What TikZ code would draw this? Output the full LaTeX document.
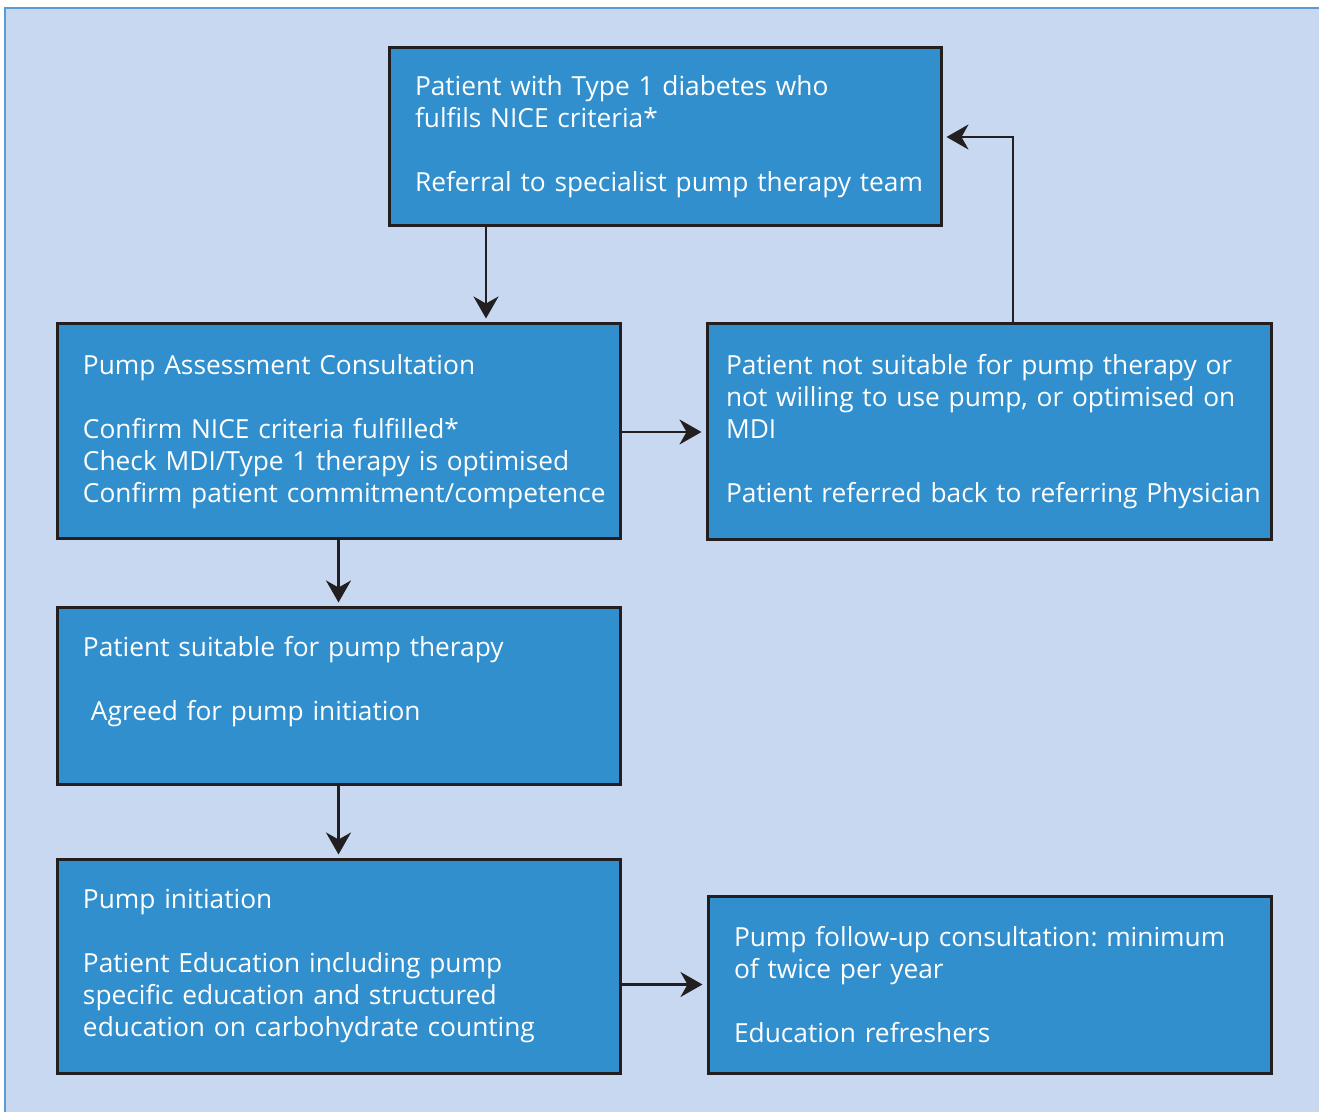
\documentclass[tikz,border=0pt]{standalone}
\usepackage{fontspec}
\setmainfont{Open Sans}
\usetikzlibrary{arrows.meta}
\frenchspacing

\definecolor{panelBlue}{HTML}{C8D8F0}
\definecolor{panelEdge}{HTML}{5B9BD5}
\definecolor{boxBlue}{HTML}{318FCE}
\definecolor{boxEdge}{HTML}{231F20}

\begin{document}
\begin{tikzpicture}[x=0.5pt,y=-0.5pt,
  box/.style={draw=boxEdge, line width=1.5pt, fill=boxBlue, text=white,
    align=left, inner xsep=13pt, inner ysep=0pt,
    font=\fontsize{13.15}{16}\selectfont},
  flow/.style={-{Stealth[length=11pt,width=12.5pt,inset=3.5pt]}, line width=1.25pt,
    draw=boxEdge, shorten >=2pt}]

% Background panel, cut by the page edge on the right and bottom
\clip (0,0) rectangle (1319,1112);
\draw[panelEdge, fill=panelBlue, line width=1pt] (5,8) rectangle (1340,1130);

% The boxes of the pathway
\node[box, text width=250pt, minimum height=89pt] (patientReferral) at (665,137)
  {Patient with Type 1 diabetes who\\ fulfils NICE criteria*\\[16pt]
   \mbox{Referral to specialist pump therapy team}};
\node[box, text width=255.5pt, minimum height=107.5pt] (pumpAssessment) at (338.5,431.5)
  {Pump Assessment Consultation\\[16pt]
   Confirm NICE criteria fulfilled*\\ \mbox{Check MDI/Type 1 therapy is optimised}\\
   \mbox{Confirm patient commitment/competence}};
\node[box, inner xsep=9.5pt, text width=263pt, minimum height=108pt] (notSuitable) at (989,432)
  {Patient not suitable for pump therapy or\\ not willing to use pump, or optimised on\\ MDI\\[16pt]
   \mbox{Patient referred back to referring Physician}};
\node[box, text width=255.5pt, minimum height=88.5pt] (suitable) at (338.5,696.5)
  {Patient suitable for pump therapy\\[16pt]
   \hspace*{4pt}Agreed for pump initiation\rule[-18pt]{0pt}{18pt}};
\node[box, text width=255.5pt, minimum height=106.5pt] (pumpInitiation) at (338.5,966.5)
  {Pump initiation\\[16pt]
   Patient Education including pump\\ specific education and structured\\
   \mbox{education on carbohydrate counting}};
\node[box, text width=255.5pt, minimum height=88.5pt] (followUp) at (989.5,984.5)
  {\mbox{Pump follow-up consultation: minimum}\\ of twice per year\\[16pt]
   Education refreshers};

% Arrows between the boxes
\draw[flow] (patientReferral.south -| 486,0) -- (pumpAssessment.north -| 486,0);
\draw[flow] (pumpAssessment.east |- notSuitable.west) -- (notSuitable.west);
\draw[flow] ([xshift=12pt]notSuitable.north) |- (patientReferral.east);
\draw[flow] (pumpAssessment) -- (suitable);
\draw[flow] (suitable) -- (pumpInitiation);
\draw[flow] (pumpInitiation.east |- followUp.west) -- (followUp.west);

\end{tikzpicture}
\end{document}
